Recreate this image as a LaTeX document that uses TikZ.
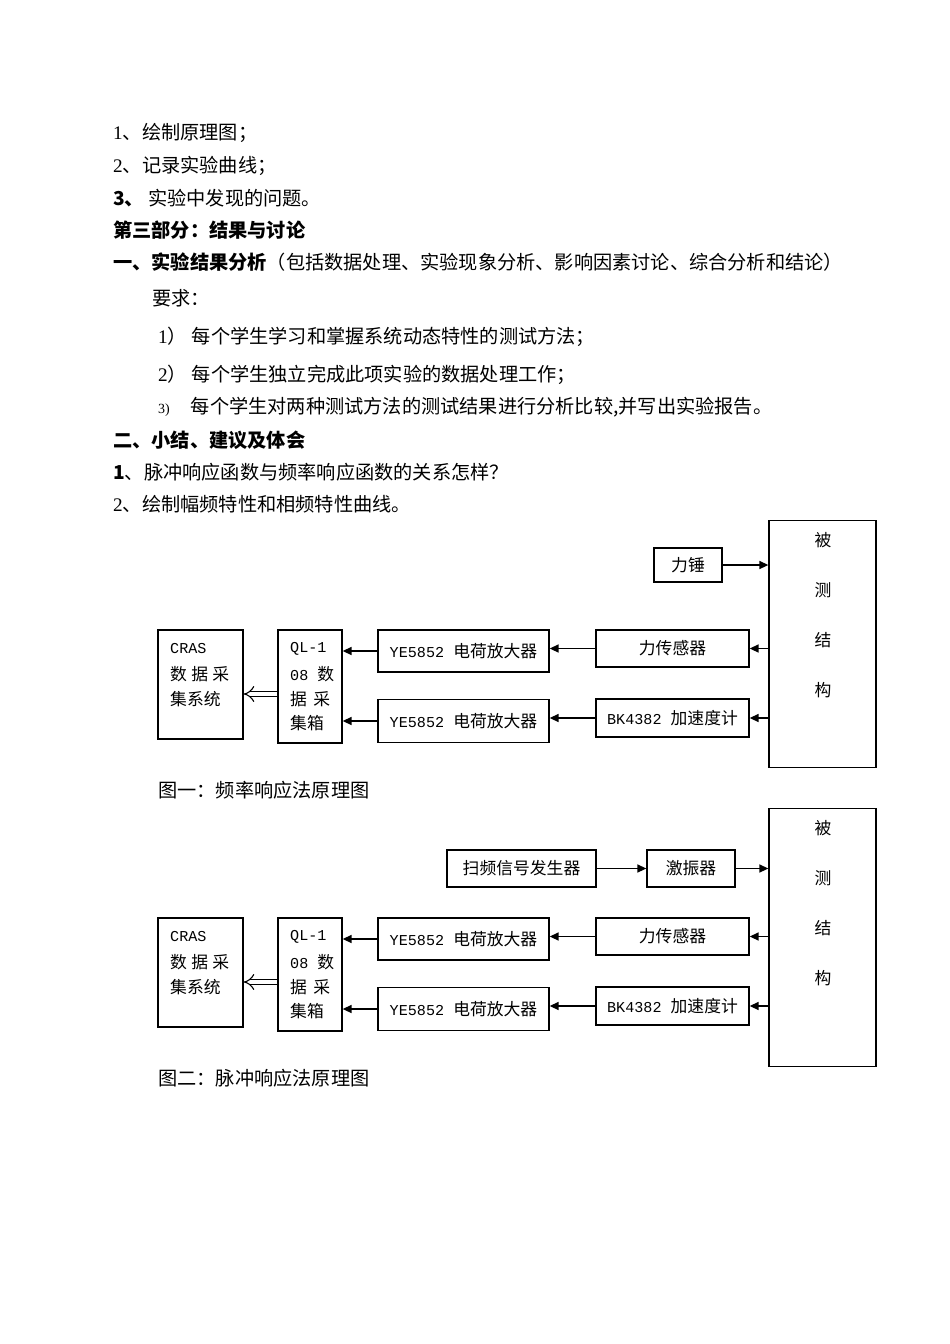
\documentclass[tikz,border=0pt]{standalone}
\usepackage{fontspec}
\setmainfont{Noto Sans CJK SC}
\newfontfamily\lat{Liberation Mono}[Scale=0.9]
\newfontfamily\num{Liberation Serif}
\usetikzlibrary{arrows.meta}

\tikzset{
  box/.style={draw, line width=1.3pt, inner sep=0pt, font=\fontsize{16.8pt}{25pt}\selectfont},
  boxtxt/.style={inner sep=0pt, anchor=west, font=\fontsize{16.8pt}{25pt}\selectfont},
  bodytxt/.style={inner sep=0pt, anchor=west, font=\fontsize{19.2pt}{24pt}\selectfont},
  sig/.style={line width=1.5pt, -{Triangle[length=9pt,width=8pt]}},
  hollow/.style={double, double distance=4.5pt, line width=1.1pt, -{Implies[scale=1.6]}},
}

\begin{document}
\begin{tikzpicture}[x=1pt,y=-1pt]

\fill[white] (0,0) rectangle (950,1344);
\useasboundingbox (0,0) rectangle (950,1344);

\node[bodytxt] (l1) at (113,133) {{\num 1}、绘制原理图；};
\node[bodytxt] (l2) at (113,166) {{\num 2}、记录实验曲线；};
\node[bodytxt] (l3) at (113,198) {\textbf{3、} 实验中发现的问题。};
\node[bodytxt] (part3) at (113,230) {\textbf{第三部分：结果与讨论}};
\node[bodytxt] (sec1) at (113,262) {\textbf{一、实验结果分析}（包括数据处理、实验现象分析、影响因素讨论、综合分析和结论）};
\node[bodytxt] (req) at (152,298) {要求：};
\node[bodytxt] (req1) at (158,337) {{\num 1}）\hspace{5pt}每个学生学习和掌握系统动态特性的测试方法；};
\node[bodytxt] (req2) at (158,375) {{\num 2}）\hspace{5pt}每个学生独立完成此项实验的数据处理工作；};
\node[bodytxt] (req3) at (158,407) {{\fontsize{14pt}{14pt}\selectfont\num 3)}\hspace{21pt}每个学生对两种测试方法的测试结果进行分析比较,并写出实验报告。};
\node[bodytxt] (sec2) at (113,440) {\textbf{二、小结、建议及体会}};
\node[bodytxt] (q1) at (113,472) {\textbf{1}、脉冲响应函数与频率响应函数的关系怎样？};
\node[bodytxt] (q2) at (113,504) {{\num 2}、绘制幅频特性和相频特性曲线。};

\foreach \fig/\dy/\bh/\capt in {1/0/247/图一：频率响应法原理图, 2/288/258/图二：脉冲响应法原理图}{
\begin{scope}[yshift=-\dy pt]

\node[box, minimum width=85pt, minimum height=109pt] (cras\fig) at (200.5,684.5) {};
\node[boxtxt] (crasa\fig) at (170,649) {\lat CRAS};
\node[boxtxt] (crasb\fig) at (170,674) {\makebox[59pt][s]{数\hfill 据\hfill 采}};
\node[boxtxt] (crasc\fig) at (170,699) {集系统};

\node[box, minimum width=64pt, minimum height=113pt] (ql\fig) at (310,686.5) {};
\node[boxtxt] (qla\fig) at (290,649) {\lat QL-1};
\node[boxtxt] (qlb\fig) at (290,674) {{\lat 08 }数};
\node[boxtxt] (qlc\fig) at (290,699) {\makebox[40pt][s]{据\hfill 采}};
\node[boxtxt] (qld\fig) at (290,723) {集箱};

\node[box, minimum width=171pt, minimum height=42pt] (yeup\fig) at (463.5,651) {{\lat YE5852 }电荷放大器};
\node[box, minimum width=171pt, minimum height=43pt] (yelow\fig) at (463.5,721) {{\lat YE5852 }电荷放大器};
\node[box, minimum width=153pt, minimum height=37pt] (fs\fig) at (672.5,648.5) {力传感器};
\node[box, minimum width=153pt, minimum height=38pt] (acc\fig) at (672.5,718) {{\lat BK4382 }加速度计};

\node[box, minimum width=107pt, minimum height=\bh pt, anchor=north] (obj\fig) at (822.5,520) {};
\foreach \c [count=\i from 0] in {被,测,结,构}
  \node[boxtxt, anchor=center] (obj\fig-\i) at (823,540+50*\i) {\c};

\draw[sig] (fs\fig.east -| obj\fig.west) -- (fs\fig.east);
\draw[sig] (acc\fig.east -| obj\fig.west) -- (acc\fig.east);
\draw[sig] (fs\fig.west) -- (fs\fig.west -| yeup\fig.east);
\draw[sig] (acc\fig.west) -- (acc\fig.west -| yelow\fig.east);
\draw[sig] (yeup\fig.west) -- (yeup\fig.west -| ql\fig.east);
\draw[sig] (yelow\fig.west) -- (yelow\fig.west -| ql\fig.east);

\coordinate (qlout\fig) at ([yshift=-7.5pt]ql\fig.west);
\draw[hollow] (qlout\fig) -- (qlout\fig -| cras\fig.east);

\node[bodytxt] (cap\fig) at (158,790) {\capt};
\end{scope}
}

\node[box, minimum width=68pt, minimum height=34pt] (hammer) at (688,565) {力锤};
\draw[sig] (hammer.east) -- (hammer.east -| obj1.west);

\node[box, minimum width=149pt, minimum height=37pt] (sweep) at (521.5,868.5) {扫频信号发生器};
\node[box, minimum width=88pt, minimum height=37pt] (shaker) at (691,868.5) {激振器};
\draw[sig] (sweep) -- (shaker);
\draw[sig] (shaker.east) -- (shaker.east -| obj2.west);

\end{tikzpicture}
\end{document}
